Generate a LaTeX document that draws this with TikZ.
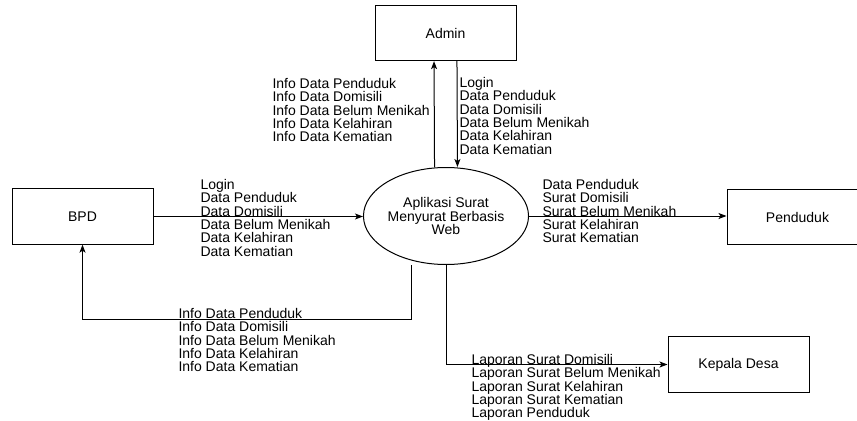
\documentclass[tikz,border=0pt]{standalone}
\usepackage{fontspec}
\setmainfont{Liberation Sans}
\usetikzlibrary{arrows.meta,shapes.geometric}

\begin{document}
\begin{tikzpicture}
  [x=0.75pt,y=-0.75pt,line width=0.75pt,
   every node/.style={font=\fontsize{10.5}{10}\selectfont},
   box/.style={draw,rectangle,minimum width=105.75pt,minimum height=41.5pt},
   proc/.style={draw,ellipse,minimum width=105.75pt,minimum height=72.75pt,inner sep=0pt,align=center},
   lbl/.style={align=left,anchor=north west,inner sep=0pt},
   flow/.style={-{Stealth[length=6pt,width=4.5pt,inset=1.5pt]}}]
  \useasboundingbox (0,0) rectangle (857,421);

  \node[box] (admin) at (445.5,33)  {Admin};
  \node[box] (bpd)   at (82.5,216.5) {BPD};
  \node[box] (pend)  at (797.5,217) {Penduduk};
  \node[box] (kades) at (738.5,364.5) {Kepala Desa};
  \node[proc] (app)  at (446,216) {Aplikasi Surat\\Menyurat Berbasis\\Web};
  \coordinate (retc) at (82.5,319);

  \node[lbl] (la) at (272,78) {Info Data Penduduk\\Info Data Domisili\\Info Data Belum Menikah\\Info Data Kelahiran\\Info Data Kematian};
  \node[lbl] (lb) at (459,77) {Login\\Data Penduduk\\Data Domisili\\Data Belum Menikah\\Data Kelahiran\\Data Kematian};
  \node[lbl] (lc) at (200,179) {Login\\Data Penduduk\\Data Domisili\\Data Belum Menikah\\Data Kelahiran\\Data Kematian};
  \node[lbl] (ld) at (178,308) {Info Data Penduduk\\Info Data Domisili\\Info Data Belum Menikah\\Info Data Kelahiran\\Info Data Kematian};
  \node[lbl] (le) at (542,179) {Data Penduduk\\Surat Domisili\\Surat Belum Menikah\\Surat Kelahiran\\Surat Kematian};
  \node[lbl] (lf) at (471,354) {Laporan Surat Domisili\\Laporan Surat Belum Menikah\\Laporan Surat Kelahiran\\Laporan Surat Kematian\\Laporan Penduduk};

  \draw[flow] ([xshift=-8.6pt]app.north) -- ([xshift=-8.6pt]admin.south);
  \draw[flow] ([xshift=8.6pt]admin.south) -- ([xshift=8.6pt]app.north);
  \draw[flow] (bpd.east) -- (bpd.east -| app.west);
  \draw[flow] (app.east) -- (app.east -| pend.west);
  \draw[flow] ([xshift=-26.25pt]app.south) |- (retc) -- (bpd.south);
  \draw[flow] (app.south) |- (kades.west);
\end{tikzpicture}
\end{document}
